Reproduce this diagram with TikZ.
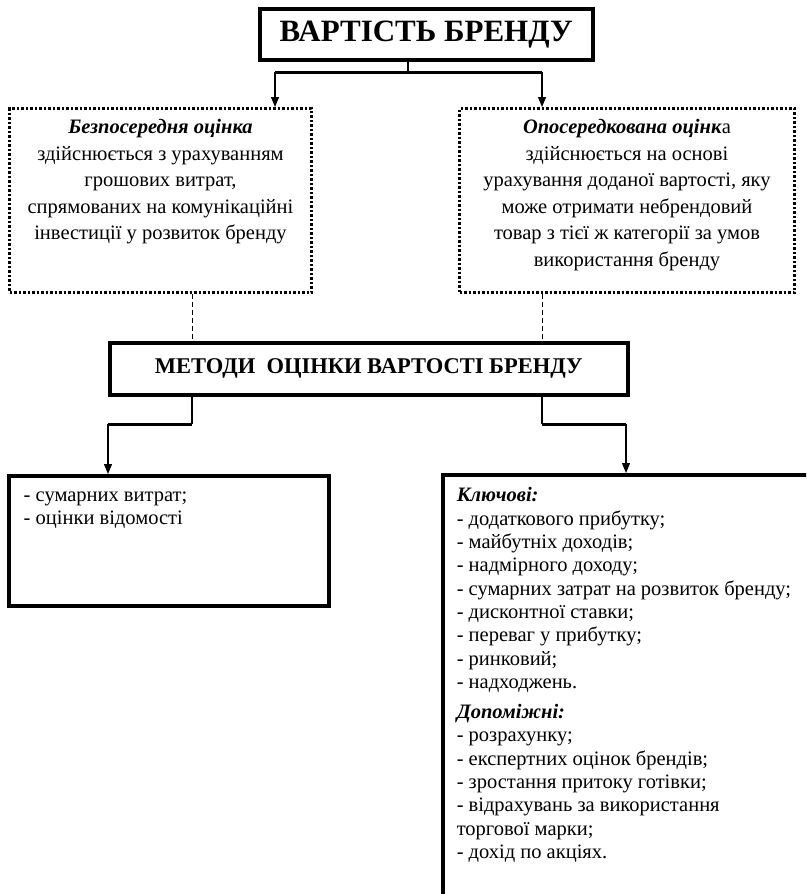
\documentclass[tikz,border=0pt]{standalone}
\usepackage{fontspec}
\setmainfont{Liberation Serif}
\usetikzlibrary{arrows.meta}
\usetikzlibrary{positioning}
\tikzset{
    conn/.style = {line width=1.2pt},
    bar/.style = {line width=3pt},
    link/.style = {line width=1pt,dash pattern=on 5pt off 3pt},
    pre/.style = {line width=1.2pt,-{Triangle[length=10pt,width=8pt]}}
}
\tikzset{
    solidbox/.style = {draw,line width=3.5pt,inner sep=0,anchor=north west},
    dotbox/.style = {draw,line width=3pt,dash pattern=on 2.5pt off 2pt,inner sep=0,anchor=north west}
}
\begin{document}
\begin{tikzpicture}[x=1pt,y=-1pt]
    \newcommand*\boxtext[3]{\parbox[c][#2][t]{#1}{#3}}
    \clip[use as bounding box] (0,0) rectangle (806,894);
    % Boxes
    \node[solidbox,minimum width=333pt,minimum height=51pt,
        font=\fontsize{31}{34}\selectfont\bfseries] (value) at (258,7) {ВАРТІСТЬ БРЕНДУ};
    \node[dotbox] (direct) at (8,107) {\boxtext{302pt}{184pt}{\centering
        \fontsize{20.5}{26.5}\selectfont\vspace*{11pt}
        \textbf{\textit{Безпосередня оцінка}}\\
        здійснюється з урахуванням\\
        грошових витрат,\\
        спрямованих на комунікаційні\\
        інвестиції у розвиток бренду}};
    \node[dotbox] (indirect) at (458,107) {\boxtext{335pt}{184pt}{\centering
        \fontsize{20.5}{26.5}\selectfont\vspace*{11pt}
        \textbf{\textit{Опосередкована оцінк}}а\\
        здійснюється на основі\\
        урахування доданої вартості, яку\\
        може отримати небрендовий\\
        товар з тієї ж категорії за умов\\
        використання бренду}};
    \node[solidbox,minimum width=518pt,minimum height=52pt,
        font=\fontsize{22.5}{25}\selectfont\bfseries] (methods) at (108,341) {МЕТОДИ\ \ ОЦІНКИ ВАРТОСТІ БРЕНДУ};
    \node[solidbox] (costs) at (7,474) {\boxtext{320pt}{130pt}{\raggedright\leftskip=15pt
        \fontsize{20.5}{23.3}\selectfont\vspace*{16pt}
        - сумарних витрат;\\
        - оцінки відомості}};
    \node[solidbox] (kinds) at (441,473) {\boxtext{420pt}{421.5pt}{\raggedright\leftskip=14pt
        \fontsize{20.5}{23.3}\selectfont\vspace*{13pt}
        \textbf{\textit{Ключові:}}\\
        - додаткового прибутку;\\
        - майбутніх доходів;\\
        - надмірного доходу;\\
        - сумарних затрат на розвиток бренду;\\
        - дисконтної ставки;\\
        - переваг у прибутку;\\
        - ринковий;\\
        - надходжень.\\[7pt]
        \textbf{\textit{Допоміжні:}}\\
        - розрахунку;\\
        - експертних оцінок брендів;\\
        - зростання притоку готівки;\\
        - відрахувань за використання\\
        торгової марки;\\
        - дохід по акціях.}};
    % Junctions
    \coordinate (vsplit) at (408,72);
    \coordinate (vleft) at (275,72);
    \coordinate (vright) at (542,72);
    \coordinate (msplitl) at (192,424);
    \coordinate (msplitr) at (542,424);
    \coordinate (mleft) at (108,424);
    \coordinate (mright) at (626,424);
    % Connectors
    \draw[conn] (value.south -| vsplit) -- (vsplit);
    \draw[bar] (vleft) -- (vright);
    \draw[pre] (vleft) -- (vleft |- direct.north);
    \draw[pre] (vright) -- (vright |- indirect.north);
    \foreach \src/\dest in {direct/msplitl,indirect/msplitr}
        \draw[link] (\src.south -| \dest) -- (methods.north -| \dest);
    \foreach \src/\dest in {msplitl/mleft,msplitr/mright}
        \draw[conn] (methods.south -| \src) -- (\src);
    \draw[bar] (msplitl) -- (mleft);
    \draw[bar] (msplitr) -- (mright);
    \draw[pre] (mleft) -- (mleft |- costs.north);
    \draw[pre] (mright) -- (mright |- kinds.north);
\end{tikzpicture}
\end{document}
